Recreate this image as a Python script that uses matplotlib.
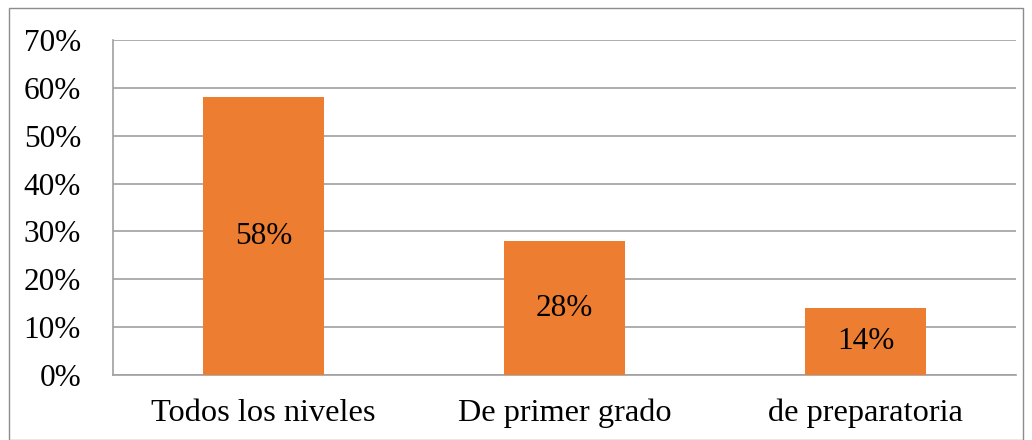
import matplotlib.pyplot as plt
from matplotlib.patches import Rectangle
from matplotlib.ticker import FuncFormatter

# datos del grafico
categorias = ['Todos los niveles', 'De primer grado', 'de preparatoria']
valores = [0.58, 0.28, 0.14]
etiquetas = ['58%', '28%', '14%']

plt.rcParams['font.family'] = ['Liberation Serif', 'DejaVu Serif']

fig = plt.figure(figsize=(10.32, 4.4), dpi=100)
ax = fig.add_axes([113 / 1032, 65 / 440, 903 / 1032, 335 / 440])

x = range(len(categorias))
bars = ax.bar(x, valores, width=0.4, color='#ED7D31', zorder=3)
for b, t in zip(bars, etiquetas):
    ax.text(b.get_x() + b.get_width() / 2, b.get_height() / 2, t,
            ha='center', va='center', fontsize=22.5, color='black', zorder=4)

ax.set_xlim(-0.5, len(categorias) - 0.5)
ax.set_ylim(0, 0.7)
ax.set_yticks([i / 10 for i in range(8)])
ax.yaxis.set_major_formatter(FuncFormatter(lambda v, p: f'{v * 100:.0f}%'))
ax.set_xticks(list(x))
ax.set_xticklabels(categorias)
ax.tick_params(axis='both', length=0, labelsize=22.5, colors='black')
ax.tick_params(axis='x', labelsize=23.3, pad=17)
ax.tick_params(axis='y', pad=23)
ax.grid(axis='y', color='#A0A0A0', linewidth=1.2, zorder=0)

for s in ['top', 'right']:
    ax.spines[s].set_visible(False)
for s in ['left', 'bottom']:
    ax.spines[s].set_color('#A0A0A0')
    ax.spines[s].set_linewidth(1.2)

# borde exterior del grafico
fig.patches.append(Rectangle((9 / 1032, 0.5 / 440), 1014 / 1032, 431 / 440,
                             transform=fig.transFigure, fill=False,
                             edgecolor='#8C8C8C', linewidth=1))

fig.savefig('out.png', dpi=100)
plt.close()
